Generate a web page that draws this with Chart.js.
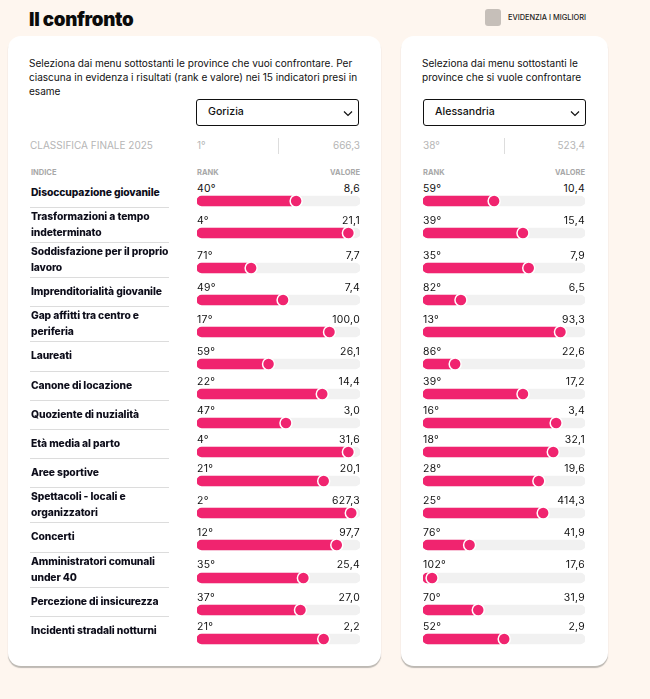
<!DOCTYPE html>
<html lang="it"><head><meta charset="utf-8">
<script src="https://cdn.jsdelivr.net/npm/chart.js@4"></script>
<style>
html,body{margin:0;padding:0;width:650px;height:699px;overflow:hidden;background:#fef6ef;font-family:Inter,"Open Sans",sans-serif;color:#111}
h1{position:absolute;left:29px;top:8px;margin:0;font:900 18.7px/24px Inter,sans-serif;letter-spacing:-.3px;color:#0b0b0b}
.swatch{position:absolute;left:485px;top:9px;width:16px;height:17px;border-radius:3px;background:#c6bfb9}
.legend{position:absolute;left:508px;top:12px;font:500 7.4px/11px Inter,sans-serif;color:#222}
.panel{position:absolute;top:36px;height:630px;background:#fff;border-radius:13px;box-shadow:0 2px 1px #bdb9b3}
.intro{position:absolute;top:56px;font:400 10.05px/14px Inter,sans-serif;color:#111}
.sel{position:absolute;top:99px;height:27px;width:163px;box-sizing:border-box;border:1px solid #111;border-radius:3px;background:#fff;font:500 10.6px/24px Inter,sans-serif;padding-left:11px}
.sel svg{position:absolute;right:5px;top:10px}
.fin{position:absolute;top:139px;font:400 10px/13px Inter,sans-serif;color:#b5b5b5}
.vr{position:absolute;top:138px;width:1px;height:16px;background:#ddd}
.hd{position:absolute;top:167.5px;font:700 7.5px/10px Inter,sans-serif;color:#a8a8a8}
#rows{position:absolute;left:0;top:179px;width:650px}
.row{position:relative;height:29.2px}
.row.two{height:35px}
.lab{position:absolute;left:31px;width:142px;top:5px;font:800 10.3px/16px Inter,sans-serif;white-space:pre-line;color:#0d0d1a;letter-spacing:-.1px}
.row.two .lab{top:0}
.rule{position:absolute;left:30px;width:139px;bottom:0;height:1px;background:#dcdcdc}
.row:last-child .rule{display:none}
.t{position:absolute;top:3px;font:400 10.4px/13px Inter,sans-serif;letter-spacing:.3px;color:#111}
.row.two .t{top:5.5px}
canvas{position:absolute;top:14px;display:block}
.row.two canvas{top:17px}
</style></head><body>
<h1>Il confronto</h1>
<div class="swatch"></div><div class="legend">EVIDENZIA I MIGLIORI</div>
<div class="panel" style="left:8px;width:373px"></div>
<div class="panel" style="left:401px;width:207px"></div>
<div class="intro" style="left:29px;width:330px">Seleziona dai menu sottostanti le province che vuoi confrontare. Per ciascuna in evidenza i risultati (rank e valore) nei 15 indicatori presi in esame</div>
<div class="intro" style="left:422px;width:170px">Seleziona dai menu sottostanti le province che si vuole confrontare</div>
<div id="head"></div>
<div id="rows"></div>
<script>
const indicators = ["Disoccupazione giovanile","Trasformazioni a tempo\nindeterminato","Soddisfazione per il proprio\nlavoro","Imprenditorialità giovanile","Gap affitti tra centro e\nperiferia","Laureati","Canone di locazione","Quoziente di nuzialità","Età media al parto","Aree sportive","Spettacoli - locali e\norganizzatori","Concerti","Amministratori comunali\nunder 40","Percezione di insicurezza","Incidenti stradali notturni"];
const provinceA = "Gorizia";
const finalRankA = 1;
const finalValueA = 666.3;
const ranksA = [40,4,71,49,17,59,22,47,4,21,2,12,35,37,21];
const valuesA = [8.6,21.1,7.7,7.4,100.0,26.1,14.4,3.0,31.6,20.1,627.3,97.7,25.4,27.0,2.2];
const provinceB = "Alessandria";
const finalRankB = 38;
const finalValueB = 523.4;
const ranksB = [59,39,35,82,13,86,39,16,18,28,25,76,102,70,52];
const valuesB = [10.4,15.4,7.9,6.5,93.3,22.6,17.2,3.4,32.1,19.6,414.3,41.9,17.6,31.9,2.9];
const axisWorst = 108.3;
const axisBest = -4;

const PINK = "#f0246f", TRACK = "#f1f1f1";
const fmt = v => v.toFixed(1).replace(".", ",");
const el = (parent, cls, text, css) => {
  const d = document.createElement("div");
  d.className = cls; if (text !== undefined) d.textContent = text;
  if (css) d.style.cssText = css;
  parent.appendChild(d); return d;
};
const chevron = '<svg width="10" height="7" viewBox="0 0 10 7"><path d="M1 1.5 L5 5.5 L9 1.5" fill="none" stroke="#111" stroke-width="1.2"/></svg>';
const head = document.getElementById("head");
const columns = [
  {left:197, right:360, sel:196, name:provinceA, fr:finalRankA, fv:finalValueA, ranks:ranksA, values:valuesA, rule:278},
  {left:423, right:585, sel:423, name:provinceB, fr:finalRankB, fv:finalValueB, ranks:ranksB, values:valuesB, rule:504}
];
el(head, "fin", "CLASSIFICA FINALE 2025", "left:30px");
el(head, "hd", "INDICE", "left:31px");
columns.forEach(c => {
  const s = el(head, "sel", c.name, `left:${c.sel}px`);
  s.insertAdjacentHTML("beforeend", chevron);
  el(head, "fin", c.fr + "°", `left:${c.left}px`);
  el(head, "vr", undefined, `left:${c.rule}px`);
  el(head, "fin", fmt(c.fv), `right:${650-c.right}px`);
  el(head, "hd", "RANK", `left:${c.left}px`);
  el(head, "hd", "VALORE", `right:${650-c.right}px`);
});

function miniChart(canvas, rank, label) {
  new Chart(canvas, {
    type: "bar",
    data: {
      labels: [label],
      datasets: [
        {type:"line", data:[rank], order:1, showLine:false, pointRadius:6, pointBackgroundColor:PINK, pointBorderColor:"#fff", pointBorderWidth:1.5, clip:false},
        {data:[rank], base:axisWorst, backgroundColor:PINK, order:2, borderRadius:5, borderSkipped:false, barThickness:10, grouped:false},
        {data:[axisBest], base:axisWorst, backgroundColor:TRACK, order:3, borderRadius:5, borderSkipped:false, barThickness:10, grouped:false}
      ]
    },
    options: {
      indexAxis: "y", responsive:false, animation:false, events:[],
      layout:{padding:0, autoPadding:false},
      plugins:{legend:{display:false}, tooltip:{enabled:false}},
      scales:{
        x:{type:"linear", reverse:true, min:axisBest, max:axisWorst, display:false},
        y:{type:"category", display:false}
      }
    }
  });
}

const rows = document.getElementById("rows");
indicators.forEach((name, i) => {
  const r = el(rows, "row" + (name.includes("\n") ? " two" : ""));
  el(r, "lab", name);
  el(r, "rule");
  columns.forEach(c => {
    el(r, "t", c.ranks[i] + "°", `left:${c.left}px`);
    el(r, "t", fmt(c.values[i]), `right:${650-c.right}px`);
    const cv = document.createElement("canvas");
    cv.width = c.right - c.left; cv.height = 16;
    cv.style.left = c.left + "px";
    cv.style.width = cv.width + "px"; cv.style.height = "16px";
    r.appendChild(cv);
    miniChart(cv, c.ranks[i], name.replace("\n"," "));
  });
});
</script></body></html>
